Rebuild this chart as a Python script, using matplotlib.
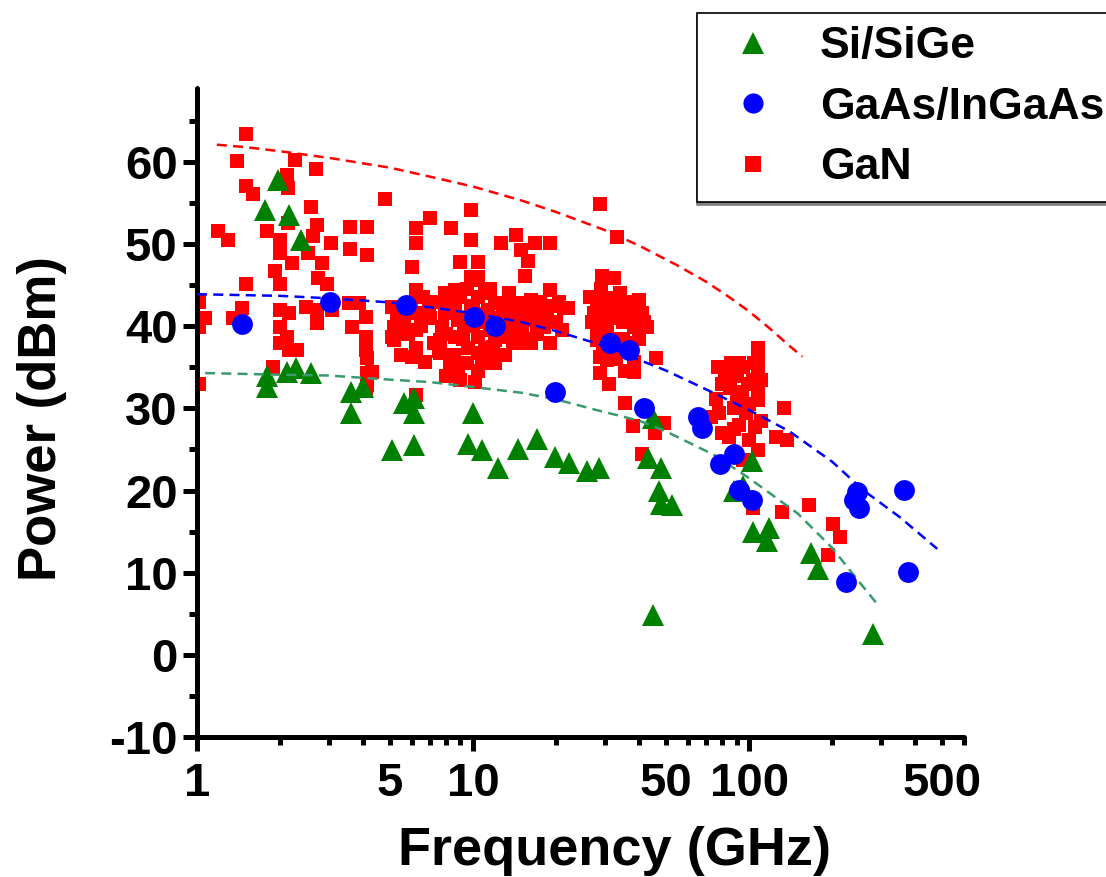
import matplotlib
matplotlib.use("Agg")
import matplotlib.pyplot as plt
from matplotlib.lines import Line2D
from matplotlib.ticker import FixedLocator, FixedFormatter

plt.rcParams['font.family'] = ['Liberation Sans', 'DejaVu Sans']
plt.rcParams['font.weight'] = 'bold'
plt.rcParams['axes.unicode_minus'] = False

# Si/SiGe
si_f = [1.76, 1.96, 2.16, 2.39, 1.8, 1.8, 2.11, 2.29, 2.59, 3.6, 3.6, 4.0, 5.1, 6.1, 6.1, 5.6, 6.1,
        10.0, 9.6, 10.8, 12.3, 14.5, 17.1, 19.8, 22.3, 25.9, 28.7, 45, 43, 48, 47, 48, 52.7, 45,
        88, 95, 102, 103, 118, 116, 167, 178, 281]
si_p = [54.1, 57.8, 53.5, 50.5, 34.0, 32.6, 34.4, 34.9, 34.3, 32.0, 29.4, 32.6, 24.9, 31.3, 29.5, 30.6, 25.5,
        29.4, 25.7, 24.9, 22.8, 25.1, 26.3, 24.1, 23.4, 22.4, 22.8, 28.8, 24.0, 22.7, 20.0, 18.4, 18.2, 4.8,
        20.0, 20.6, 23.6, 14.9, 15.4, 13.9, 12.4, 10.5, 2.5]

# GaAs/InGaAs
gaas_f = [1.46, 3.03, 5.7, 10.1, 12.0, 19.8, 31.3, 36.8, 41.5, 65, 67.5, 78.5, 88, 92, 102,
          225, 240, 245, 250, 365, 375]
gaas_p = [40.3, 42.9, 42.6, 41.1, 40.0, 32.0, 37.9, 37.1, 30.0, 28.9, 27.6, 23.2, 24.4, 20.1, 18.9,
          8.9, 18.9, 19.8, 17.9, 20.1, 10.1]

# GaN
gan_f = [1.50, 1.40, 2.27, 2.70, 2.11, 2.13, 1.50, 1.60, 4.8, 2.59, 2.13, 2.72, 1.19, 1.30, 1.80, 2.0,
         2.63, 3.06, 3.58, 4.12, 3.58, 4.12, 2.0, 2.53, 2.21, 2.84, 1.92, 2.0, 2.75, 2.96, 1.50,
         1.02, 1.07, 1.02, 1.35, 1.46, 1.99, 2.16, 1.99, 2.11, 2.16, 2.31, 1.99, 2.49, 2.72, 2.72,
         3.08, 3.55, 3.86, 4.08, 3.64, 4.08, 4.08, 4.12, 4.12, 4.12, 1.88, 1.02, 5.07, 5.07,
         4.3, 4.08, 6.2,
         7.0, 9.8, 8.3, 9.8, 6.2, 6.2, 6.0, 9.0, 9.8, 6.2, 8.3,
         10.4, 12.6, 14.3, 14.9, 16.8, 19.0, 15.8, 15.4, 10.4,
         5.15, 5.15, 6.2, 6.33, 6.2, 6.2, 6.0, 6.7, 6.9, 7.9, 8.6, 7.9, 7.7, 7.6, 7.6, 8.25, 8.8,
         8.6, 8.8, 10.4, 10.4, 9.8, 10.4, 10.4, 10.4, 10.2, 9.6, 11.6, 11.0, 12.0, 12.0, 13.0,
         13.0, 14.5, 14.5, 14.5, 16.2, 16.2, 16.2, 18.1, 18.1, 19.0, 19.0, 21.4, 9.0, 13.0, 8.6,
         11.0, 11.5, 12.5, 15.0, 17.0, 9.3, 7.2, 5.6, 5.5, 6.6, 20.0, 11.0, 13.5, 10.0,
         5.3, 5.8, 6.5, 7.0, 7.3, 7.5, 8.0, 8.2, 8.5, 9.2, 9.5, 9.5, 10.0, 10.8, 11.3, 11.8, 12.3,
         12.8, 13.5, 14.0, 14.0, 15.5, 15.5, 17.0, 17.5, 18.5, 19.5, 20.5, 21.0, 11.5, 12.0, 13.0,
         8.0, 9.0, 10.8,
         28.8, 33.2, 29.4, 32.4, 22.0, 28.1, 31.3, 39.8, 27.4, 33.2, 40.9, 42.6, 28.1, 38.2, 28.1,
         28.8, 30.6, 38.2, 35.5, 38.2, 28.8, 31.0, 45.9, 35.5, 37.9, 49.0, 45.5, 40.9, 30.0, 35.0,
         32.0, 36.0, 34.0,
         26.5, 27.0, 29.5, 30.5, 31.5, 32.5, 34.5, 36.5, 37.5, 39.5, 41.5, 29.5, 31.0, 33.0, 35.0,
         37.0, 40.0, 29.0, 34.0,
         108, 108, 92, 77, 108, 90, 99, 108, 76, 90, 108, 134, 97.5, 105, 79.5, 84.5, 125, 137,
         100, 108, 95, 103, 131, 165, 202, 214, 193, 85, 95, 82,
         80, 86, 88, 94, 100, 104, 110, 73, 78, 92, 110, 88, 103]
gan_p = [63.4, 60.1, 60.2, 59.1, 58.4, 56.8, 57.1, 56.1, 55.5, 54.5, 52.6, 52.3, 51.6, 50.5, 51.6, 50.5,
         51.0, 50.1, 52.1, 52.1, 49.4, 48.7, 48.9, 48.9, 47.7, 47.7, 46.7, 45.2, 45.9, 45.2, 45.2,
         43.0, 41.0, 39.9, 41.0, 42.2, 42.0, 41.6, 39.9, 38.7, 37.1, 37.1, 37.9, 42.3, 40.4, 42.0,
         42.0, 42.8, 42.8, 41.1, 39.9, 38.7, 37.1, 36.1, 34.3, 32.8, 35.0, 33.0, 42.3, 38.7,
         34.4, 32.2, 31.6,
         53.2, 54.1, 52.0, 50.5, 52.0, 50.1, 47.2, 47.8, 46.0, 44.4, 44.0,
         47.8, 50.1, 51.1, 49.3, 50.1, 50.1, 48.0, 46.1, 46.0,
         39.9, 38.3, 43.5, 41.6, 39.5, 37.4, 36.2, 35.6, 42.0, 44.0, 44.4, 41.6, 39.9, 38.3, 36.7, 35.0, 35.0,
         38.7, 40.7, 45.6, 43.5, 42.0, 38.7, 36.7, 34.6, 33.2, 37.4, 36.2, 37.4, 42.8, 38.3, 38.7,
         40.7, 42.8, 40.4, 37.9, 43.2, 40.7, 37.9, 42.3, 39.9, 44.4, 37.9, 42.2, 43.5, 42.3, 42.3,
         41.5, 39.5, 41.0, 39.0, 41.5, 40.0, 38.0, 40.5, 36.5, 43.5, 40.5, 44.0, 44.0, 40.0,
         41.0, 39.0, 40.0, 41.0, 43.0, 37.0, 39.0, 43.0, 36.5, 38.5, 44.5, 35.5, 42.5, 40.5, 42.0, 37.5, 39.5,
         41.5, 39.0, 41.5, 38.0, 42.0, 38.5, 39.0, 43.0, 41.0, 42.5, 43.0, 39.5, 44.5, 35.5, 36.5,
         34.0, 33.5, 35.5,
         54.9, 50.9, 46.1, 45.9, 42.2, 43.2, 43.4, 43.2, 41.6, 41.6, 41.6, 39.9, 39.9, 39.9, 38.3,
         36.2, 35.9, 35.6, 34.6, 34.4, 34.3, 33.0, 36.1, 30.7, 27.9, 28.2, 27.0, 24.5, 42.0, 40.5,
         38.5, 43.0, 37.0,
         43.5, 40.5, 41.0, 39.5, 41.0, 42.5, 42.0, 41.0, 42.5, 41.0, 40.5, 37.5, 37.0, 36.0, 38.5,
         38.0, 38.5, 44.5, 44.0,
         37.3, 35.9, 35.5, 35.0, 34.3, 34.0, 33.0, 32.2, 31.2, 31.2, 31.0, 30.0, 29.4, 27.7, 27.0, 26.5, 26.5, 26.1,
         26.1, 24.9, 23.7, 17.9, 17.4, 18.3, 15.9, 14.3, 12.1, 32.5, 35.0, 34.0,
         33.0, 35.5, 30.0, 32.0, 30.5, 35.5, 33.5, 29.0, 29.5, 28.0, 28.5, 27.5, 33.5]

# dashed trend curves
gan_fit_f = [1.18, 1.5, 2, 3, 5, 7, 10, 15, 20, 30, 40, 55, 70, 85, 100, 120, 140, 156]
gan_fit_p = [62.1, 61.8, 61.3, 60.5, 59.3, 58.2, 57.0, 55.3, 53.9, 51.7, 49.8, 47.4, 45.4, 43.5,
             41.8, 39.6, 37.6, 36.3]
gaas_fit_f = [1.0, 2, 3, 5, 7, 10, 15, 20, 30, 40, 50, 70, 100, 140, 200, 260, 350, 480]
gaas_fit_p = [43.9, 43.7, 43.4, 42.9, 42.3, 41.6, 40.5, 39.4, 37.6, 35.9, 34.6, 32.3, 29.8, 27.2,
              23.5, 20.0, 16.8, 12.9]
si_fit_f = [1.07, 2, 3, 5, 7, 10, 15, 20, 28, 40, 50, 75, 100, 150, 200, 250, 294]
si_fit_p = [34.3, 34.1, 34.0, 33.5, 33.2, 32.6, 31.9, 31.1, 29.8, 28.5, 27.2, 24.3, 21.5, 17.2,
            13.0, 8.9, 6.0]

fig = plt.figure(figsize=(11.06, 8.77), dpi=100)
ax = fig.add_axes([197 / 1106, 140 / 877, 767 / 1106, 649 / 877])

ax.plot(gan_f, gan_p, 's', color='#ff0000', ms=10, mew=0, zorder=2)
ax.plot(si_f, si_p, '^', color='#008000', ms=16, mew=0, zorder=3)
ax.plot(gan_fit_f, gan_fit_p, '--', color='#ff0000', lw=1.8, dashes=(4, 2.5), zorder=4)
ax.plot(gaas_fit_f, gaas_fit_p, '--', color='#0000ff', lw=1.8, dashes=(4, 2.5), zorder=4)
ax.plot(si_fit_f, si_fit_p, '--', color='#3a9a6e', lw=1.8, dashes=(4, 2.5), zorder=4)
ax.plot(gaas_f, gaas_p, 'o', color='#0000ff', ms=15, mew=0, zorder=5)

ax.set_xscale('log')
ax.set_xlim(1, 600)
ax.set_ylim(-10, 69)

ax.xaxis.set_major_locator(FixedLocator([1, 10, 100]))
ax.xaxis.set_major_formatter(FixedFormatter(['1', '10', '100']))
minor_x = [2, 3, 4, 5, 6, 7, 8, 9, 20, 30, 40, 50, 60, 70, 80, 90, 200, 300, 400, 500, 600]
minor_lab = [str(v) if v in (5, 50, 500) else '' for v in minor_x]
ax.xaxis.set_minor_locator(FixedLocator(minor_x))
ax.xaxis.set_minor_formatter(FixedFormatter(minor_lab))

ax.set_yticks(range(-10, 61, 10))
ax.set_yticks(range(-5, 66, 10), minor=True)

for s in ['top', 'right']:
    ax.spines[s].set_visible(False)
for s in ['left', 'bottom']:
    ax.spines[s].set_linewidth(3.6)
    ax.spines[s].set_capstyle('round')

ax.tick_params(which='major', length=10, width=3.6, labelsize=34)
ax.tick_params(which='minor', length=6, width=3.6, labelsize=34)
ax.tick_params(axis='x', which='major', pad=8)
ax.tick_params(axis='x', which='minor', pad=12)
ax.tick_params(axis='y', which='both', pad=4)

ax.set_xlabel('Frequency (GHz)', fontsize=39, fontweight='bold')
ax.xaxis.set_label_coords(0.544, -0.137, transform=ax.transAxes)
ax.xaxis.label.set_va('top')
ax.set_ylabel('Power (dBm)', fontsize=38, fontweight='bold')
ax.yaxis.set_label_coords(-0.17, 0.49, transform=ax.transAxes)

handles = [
    Line2D([], [], ls='none', marker='^', color='#008000', ms=16, mew=0),
    Line2D([], [], ls='none', marker='o', color='#0000ff', ms=14.5, mew=0),
    Line2D([], [], ls='none', marker='s', color='#ff0000', ms=12, mew=0),
]
leg = fig.legend(handles, ['Si/SiGe', 'GaAs/InGaAs', 'GaN'],
                 loc='upper left', bbox_to_anchor=(697 / 1106, 1 - 13 / 877),
                 prop={'size': 32, 'weight': 'bold'}, frameon=True, fancybox=False,
                 borderaxespad=0, borderpad=0.3, handlelength=1.9, handletextpad=0.56,
                 labelspacing=0.44,
                 shadow={'ox': 0, 'oy': -2, 'color': '0.5', 'alpha': 1})
leg.get_frame().set_edgecolor('black')
leg.get_frame().set_linewidth(1.2)

fig.savefig('out.png', dpi=100)
